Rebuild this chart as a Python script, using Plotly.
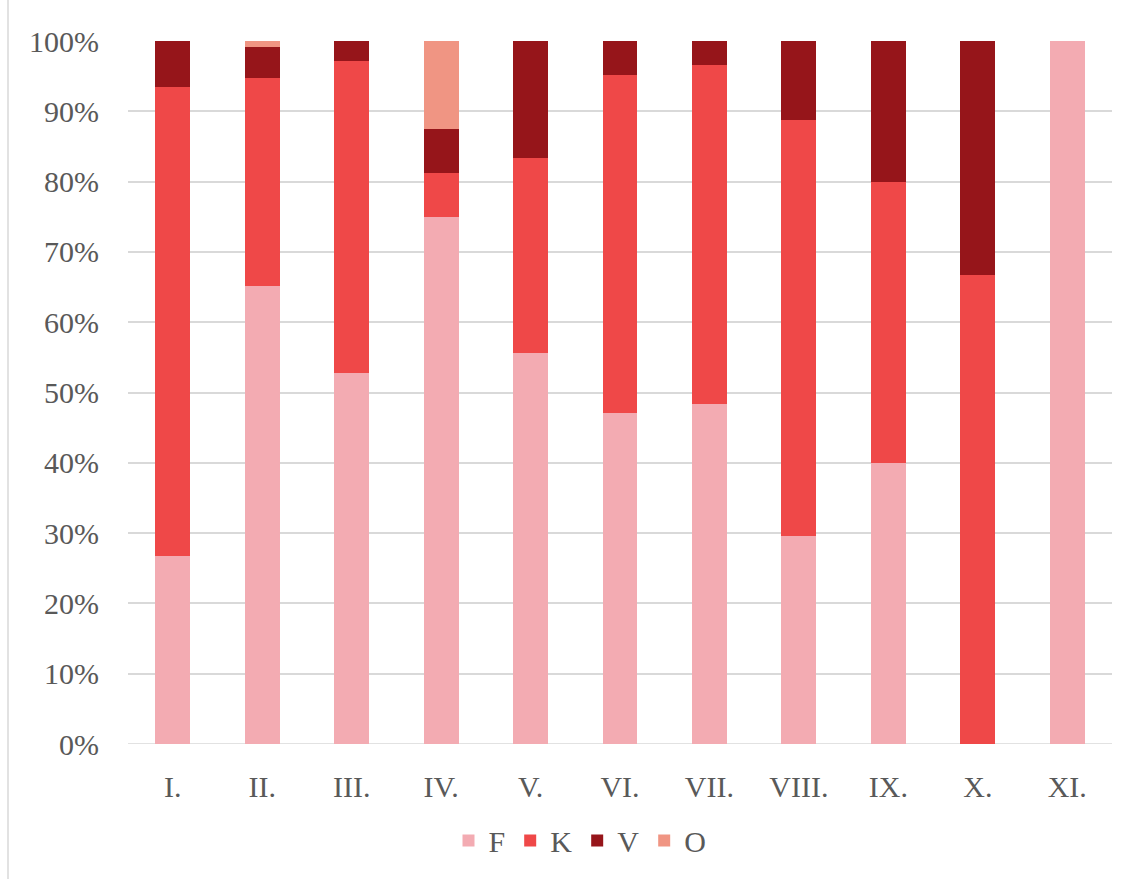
import plotly.graph_objects as go

# Share of each group per period (percent of period total)
periods = ["I.", "II.", "III.", "IV.", "V.", "VI.", "VII.", "VIII.", "IX.", "X.", "XI."]
share_F = [26.7, 65.2, 52.8, 75.0, 55.6, 47.1, 48.3, 29.6, 40.0, 0.0, 100.0]
share_K = [66.7, 29.6, 44.4, 6.25, 27.8, 48.1, 48.3, 59.1, 40.0, 66.7, 0.0]
share_V = [6.6, 4.3, 2.8, 6.25, 16.6, 4.8, 3.4, 11.3, 20.0, 33.3, 0.0]
share_O = [0.0, 0.9, 0.0, 12.5, 0.0, 0.0, 0.0, 0.0, 0.0, 0.0, 0.0]

series = [
    ("F", share_F, "#F3ABB2"),
    ("K", share_K, "#EF4848"),
    ("V", share_V, "#96151A"),
    ("O", share_O, "#F09583"),
]

font_family = "Liberation Serif, Times New Roman, serif"
text_color = "#595959"

fig = go.Figure()
for name, vals, color in series:
    fig.add_trace(go.Bar(
        name=name,
        x=periods,
        y=vals,
        marker=dict(color=color, line=dict(width=0)),
        hovertemplate="%{x} " + name + ": %{y:.1f}%<extra></extra>",
    ))

W, H = 1130, 879
ml, mr, mt, mb = 128, 18, 41, 132
ph = H - mt - mb
pw = W - ml - mr

fig.update_layout(
    width=W,
    height=H,
    barmode="stack",
    bargap=0.61,
    margin=dict(l=ml, r=mr, t=mt, b=mb, pad=0),
    paper_bgcolor="white",
    plot_bgcolor="white",
    font=dict(family=font_family, size=30, color=text_color),
    showlegend=True,
    legend=dict(
        orientation="h",
        x=(580 - ml) / pw,
        xanchor="center",
        y=(mt + ph - 844) / ph,
        yanchor="middle",
        font=dict(size=30, color=text_color),
        traceorder="normal",
        itemclick=False,
        itemdoubleclick=False,
    ),
    xaxis=dict(
        showgrid=False,
        showline=False,
        zeroline=False,
        ticks="",
        tickfont=dict(size=30, color=text_color),
        ticklabelstandoff=22,
    ),
    yaxis=dict(
        range=[0, 100],
        tickmode="array",
        tickvals=list(range(0, 101, 10)),
        ticktext=[f"{v}%" for v in range(0, 101, 10)],
        showgrid=True,
        gridcolor="#D9D9D9",
        gridwidth=1.5,
        zeroline=False,
        showline=False,
        ticks="",
        tickfont=dict(size=30, color=text_color),
        ticklabelstandoff=28,
    ),
    shapes=[
        dict(
            type="line", xref="paper", yref="paper",
            x0=(8 - ml) / pw, x1=(8 - ml) / pw,
            y0=-(mb + 5) / ph, y1=(ph + mt + 5) / ph,
            line=dict(color="#D9D9D9", width=1.5),
            layer="below",
        ),
        dict(
            type="line", xref="paper", yref="y",
            x0=0, x1=1, y0=0, y1=0,
            line=dict(color="#D9D9D9", width=1.5),
            layer="below",
        ),
    ],
)

fig.write_html("out.html")
